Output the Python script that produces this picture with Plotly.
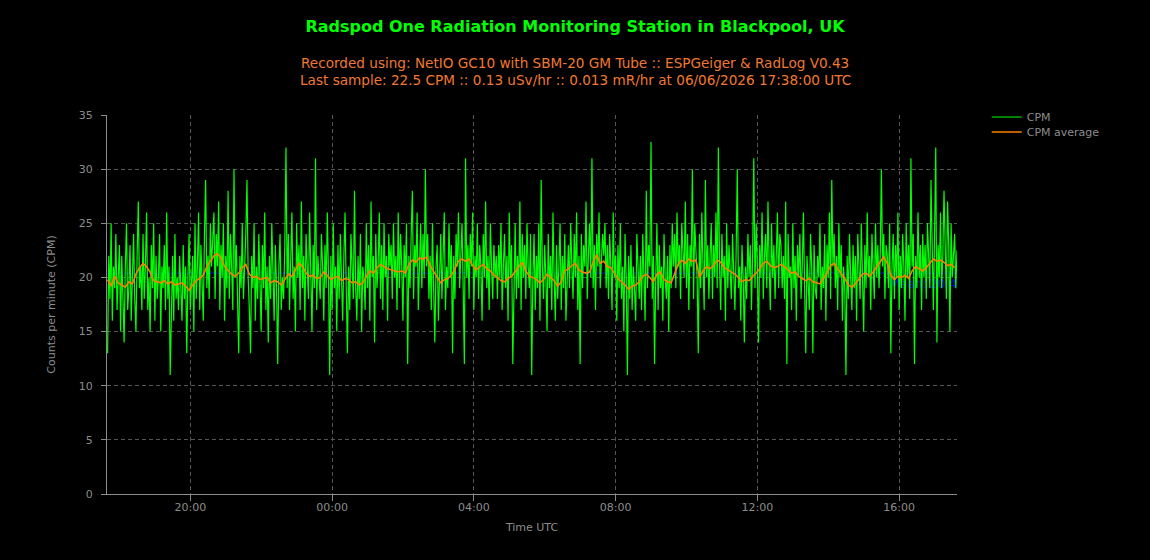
import pandas as pd
import plotly.graph_objects as go

# CPM samples, one every 2 minutes (30 per hour row), 05/06/2026 17:40 -> 06/06/2026 17:38 UTC
cpm_rows = [
    [13, 22, 18, 25, 16, 21, 19, 24, 17, 20, 23, 15, 22, 18, 14, 21, 25, 17, 19, 23, 16, 20, 24, 18, 15, 22, 27, 19, 21, 17],
    [24, 18, 21, 26, 17, 20, 15, 23, 19, 25, 16, 22, 18, 20, 24, 15, 21, 19, 23, 17, 26, 18, 21, 11, 19, 22, 16, 24, 18, 20],
    [17, 22, 19, 16, 23, 18, 21, 13, 20, 24, 17, 19, 22, 15, 25, 18, 21, 26, 17, 23, 20, 16, 24, 29, 19, 22, 18, 25, 21, 23],
    [26, 18, 24, 21, 27, 17, 23, 20, 25, 16, 22, 19, 28, 18, 24, 21, 17, 30, 20, 23, 16, 13, 22, 19, 25, 18, 21, 24, 29, 20],
    [17, 13, 22, 19, 25, 16, 21, 18, 24, 20, 15, 23, 19, 26, 17, 21, 14, 22, 18, 25, 20, 16, 23, 19, 12, 21, 24, 17, 20, 18],
    [23, 32, 19, 24, 17, 22, 26, 18, 21, 15, 25, 20, 23, 17, 27, 19, 22, 16, 24, 21, 18, 26, 20, 15, 23, 19, 31, 17, 22, 20],
    [18, 24, 21, 16, 23, 19, 26, 20, 11, 22, 17, 25, 19, 21, 15, 23, 18, 24, 20, 16, 22, 26, 19, 13, 21, 17, 24, 20, 18, 28],
    [19, 16, 22, 18, 24, 15, 21, 20, 17, 25, 19, 23, 16, 27, 20, 22, 14, 24, 19, 21, 26, 18, 23, 17, 25, 20, 22, 16, 24, 21],
    [23, 18, 25, 20, 22, 17, 26, 19, 24, 21, 16, 23, 20, 25, 12, 22, 19, 24, 28, 18, 23, 21, 26, 17, 22, 25, 19, 24, 20, 30],
    [21, 24, 18, 22, 17, 25, 19, 14, 21, 23, 16, 20, 24, 18, 22, 26, 17, 21, 19, 25, 20, 23, 13, 22, 18, 24, 21, 26, 19, 23],
    [25, 19, 12, 31, 20, 23, 18, 24, 21, 26, 17, 22, 20, 25, 18, 23, 21, 16, 24, 20, 27, 19, 22, 17, 25, 21, 18, 23, 20, 22],
    [18, 23, 20, 25, 17, 21, 24, 19, 22, 16, 26, 20, 23, 12, 21, 25, 18, 22, 19, 27, 17, 24, 20, 23, 18, 25, 21, 19, 24, 11],
    [20, 24, 17, 22, 19, 25, 16, 29, 21, 18, 23, 20, 15, 24, 19, 22, 17, 26, 20, 16, 23, 18, 21, 25, 17, 22, 19, 24, 16, 21],
    [23, 19, 25, 21, 18, 24, 20, 26, 17, 22, 12, 24, 19, 23, 21, 27, 18, 22, 25, 20, 31, 19, 23, 17, 24, 21, 26, 19, 22, 24],
    [22, 25, 19, 23, 18, 24, 21, 17, 26, 20, 22, 16, 23, 19, 25, 18, 21, 15, 24, 20, 11, 22, 18, 23, 17, 21, 19, 16, 24, 20],
    [18, 22, 17, 24, 20, 16, 28, 19, 23, 21, 32.5, 18, 22, 12, 20, 25, 17, 23, 19, 21, 16, 24, 20, 18, 22, 15, 23, 19, 25, 21],
    [24, 19, 26, 21, 23, 18, 25, 22, 20, 27, 19, 24, 17, 23, 21, 30, 18, 25, 22, 20, 13, 24, 19, 26, 21, 17, 29, 20, 23, 18],
    [22, 25, 18, 23, 20, 26, 19, 32, 21, 17, 24, 20, 22, 16, 25, 19, 23, 21, 18, 24, 20, 17, 22, 30, 19, 21, 16, 23, 20, 14],
    [21, 18, 24, 20, 23, 17, 22, 31, 19, 25, 21, 14, 23, 20, 26, 18, 22, 24, 19, 27, 21, 17, 25, 20, 23, 18, 22, 26, 19, 24],
    [23, 19, 22, 18, 27, 12, 24, 20, 21, 17, 25, 19, 22, 16, 23, 20, 24, 18, 21, 26, 19, 13, 22, 20, 17, 24, 21, 13, 23, 19],
    [18, 22, 20, 25, 17, 21, 19, 24, 16, 23, 20, 26, 18, 29, 21, 24, 19, 22, 17, 25, 20, 23, 16, 21, 19, 11, 22, 18, 24, 20],
    [17, 23, 19, 22, 16, 24, 20, 18, 25, 21, 15, 23, 19, 26, 20, 22, 17, 24, 21, 18, 25, 20, 23, 19, 22, 30, 21, 24, 18, 23],
    [22, 19, 25, 13, 21, 24, 18, 23, 20, 26, 17, 22, 19, 24, 21, 16, 25, 20, 23, 18, 31, 21, 24, 12, 22, 19, 26, 20, 23, 17],
    [24, 20, 23, 18, 25, 21, 19, 29, 22, 17, 24, 32, 14, 23, 20, 26, 19, 22, 28, 21, 18, 27, 23, 15, 25, 20, 22, 24, 19, 22.5],
]

# CPM average, one value every 6 minutes (10 per hour row)
avg_rows = [
    [19.8, 19.2, 20.1, 19.5, 19.3, 19.1, 19.6, 19.4, 20.3, 20.9],
    [21.3, 21.0, 20.5, 19.7, 19.6, 19.5, 19.7, 19.4, 19.6, 19.3],
    [19.4, 19.5, 19.2, 18.8, 19.3, 19.7, 19.9, 20.2, 21.0, 21.5],
    [22.0, 22.2, 21.8, 21.0, 20.6, 20.3, 20.1, 20.4, 20.9, 21.2],
    [20.3, 20.0, 20.1, 19.8, 19.9, 20.0, 19.5, 19.7, 19.6, 19.3],
    [19.8, 20.3, 20.1, 20.7, 21.3, 21.0, 20.4, 20.1, 20.2, 19.9],
    [20.0, 20.5, 20.2, 19.8, 20.0, 20.1, 19.7, 19.9, 19.8, 19.5],
    [19.6, 19.3, 19.5, 20.1, 20.6, 20.4, 20.9, 21.2, 21.0, 20.8],
    [20.7, 20.6, 20.5, 20.6, 20.4, 21.2, 21.6, 21.4, 21.8, 21.7],
    [21.9, 21.1, 20.5, 20.0, 19.5, 19.8, 19.9, 20.2, 20.8, 21.5],
    [21.7, 21.5, 21.7, 21.1, 20.7, 21.0, 21.2, 20.8, 20.6, 20.2],
    [20.0, 19.7, 19.6, 19.9, 20.1, 20.5, 20.9, 21.4, 20.6, 20.1],
    [20.0, 19.8, 19.5, 19.8, 20.3, 20.0, 19.7, 19.2, 19.6, 20.6],
    [20.8, 21.1, 21.3, 20.7, 20.5, 20.4, 20.5, 21.4, 22.1, 21.3],
    [21.5, 21.0, 20.9, 20.4, 19.9, 19.6, 19.3, 18.9, 19.2, 19.3],
    [19.6, 20.1, 20.3, 20.0, 19.6, 20.3, 20.5, 19.8, 19.6, 19.5],
    [20.4, 21.2, 21.6, 21.3, 21.7, 21.5, 21.6, 20.0, 20.6, 21.0],
    [20.8, 21.1, 21.6, 21.4, 20.9, 20.7, 20.5, 20.3, 20.0, 19.6],
    [19.8, 19.7, 20.1, 20.4, 20.8, 21.3, 21.5, 21.1, 20.9, 21.0],
    [21.2, 21.0, 20.7, 20.4, 20.5, 20.1, 19.9, 19.7, 19.9, 19.6],
    [19.5, 19.4, 19.9, 20.4, 21.1, 21.3, 20.8, 20.4, 19.9, 19.3],
    [19.1, 19.4, 19.9, 20.3, 20.4, 20.1, 20.5, 21.0, 21.5, 21.9],
    [21.3, 20.2, 19.8, 20.1, 20.0, 20.2, 19.9, 20.6, 21.0, 20.8],
    [20.6, 20.9, 21.3, 21.7, 21.5, 21.6, 21.4, 21.1, 21.2, 20.9],
]

mean_cpm = 20.4
start_time = "2026-06-05 17:40:00"
x_range = ["2026-06-05 17:39:00", "2026-06-06 17:38:00"]
y_ticks = [0, 5, 10, 15, 20, 25, 30, 35]

cpm = [v for row in cpm_rows for v in row]
avg = [v for row in avg_rows for v in row]
t_cpm = pd.date_range(start_time, periods=len(cpm), freq="2min")
t_avg = pd.date_range(start_time, periods=len(avg), freq="6min")

GRAY = "#8c8c8c"
FONT = "DejaVu Sans, Verdana, sans-serif"
PLOT_TOP, PLOT_BOTTOM = 115, 494
PLOT_H = PLOT_BOTTOM - PLOT_TOP


def paper_y(px):
    return (PLOT_BOTTOM - px) / PLOT_H


fig = go.Figure()
fig.add_trace(go.Scatter(x=t_cpm, y=cpm, mode="lines", name="CPM", legend="legend",
                         line=dict(color="#00ff00", width=1.2)))
fig.add_trace(go.Scatter(x=t_avg, y=avg, mode="lines", name="CPM average", legend="legend2",
                         line=dict(color="#ff8000", width=1.6)))

fig.add_shape(type="line", xref="paper", x0=0, x1=1, yref="y", y0=mean_cpm, y1=mean_cpm,
              line=dict(color="#0000ff", width=1), layer="below",
              label=dict(text="Mean: 20.4", textposition="end", yanchor="top",
                         font=dict(color="#0000ff", size=12, family=FONT)))

legend_common = dict(xanchor="left", yanchor="top", x=1.035,
                     font=dict(color=GRAY, size=11, family=FONT),
                     bgcolor="rgba(0,0,0,0)")

fig.update_layout(
    width=1150, height=560,
    paper_bgcolor="black", plot_bgcolor="black",
    margin=dict(l=107, r=193, t=PLOT_TOP, b=560 - PLOT_BOTTOM),
    font=dict(family=FONT, color=GRAY, size=11),
    title=dict(text="<b>Radspod One Radiation Monitoring Station in Blackpool, UK</b>",
               x=0.5, xref="container", xanchor="center", y=0.952, yanchor="middle",
               font=dict(color="#00ff00", size=16, family=FONT)),
    showlegend=True,
    legend=dict(y=paper_y(102.5), **legend_common),
    legend2=dict(y=paper_y(117.5), **legend_common),
    xaxis=dict(range=x_range, type="date", tickformat="%H:%M", dtick=4 * 3600 * 1000,
               tick0="2026-06-05 20:00:00",
               showgrid=True, gridcolor="#555555", griddash="4px,3px", gridwidth=1,
               showline=True, linecolor=GRAY, linewidth=1,
               ticks="outside", ticklen=6, tickcolor=GRAY, ticklabelstandoff=-3,
               tickfont=dict(color=GRAY, size=11), zeroline=False,
               title=dict(text="Time UTC", font=dict(color=GRAY, size=11), standoff=10)),
    yaxis=dict(range=[0, 35], tickvals=y_ticks,
               showgrid=True, gridcolor="#555555", griddash="4px,3px", gridwidth=1,
               showline=True, linecolor=GRAY, linewidth=1,
               ticks="outside", ticklen=5, tickcolor=GRAY, ticklabelstandoff=6,
               tickfont=dict(color=GRAY, size=11), zeroline=False,
               title=dict(text="Counts per minute (CPM)", font=dict(color=GRAY, size=11), standoff=20)),
)

center_x = (575 - 107) / 850
fig.add_annotation(text="Recorded using: NetIO GC10 with SBM-20 GM Tube :: ESPGeiger &amp; RadLog V0.43",
                   xref="paper", yref="paper", x=center_x, y=paper_y(63), yanchor="middle",
                   showarrow=False, font=dict(color="#f07830", size=13.6, family=FONT))
fig.add_annotation(text="Last sample: 22.5 CPM :: 0.13 uSv/hr :: 0.013 mR/hr at 06/06/2026 17:38:00 UTC",
                   xref="paper", yref="paper", x=center_x, y=paper_y(80), yanchor="middle",
                   showarrow=False, font=dict(color="#f07830", size=13.6, family=FONT))

fig.write_html("out.html")
